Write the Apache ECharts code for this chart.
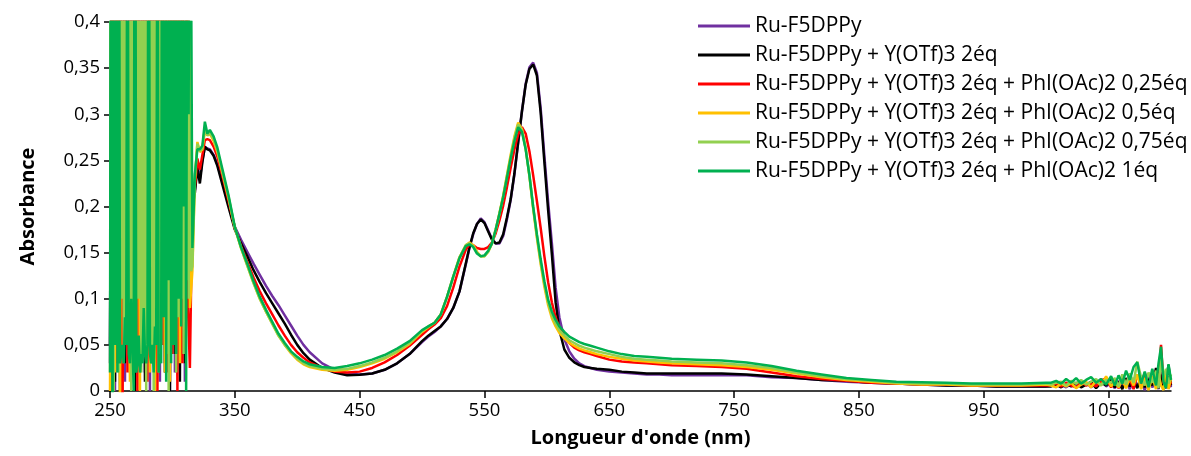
<!DOCTYPE html>
<html>
<head>
<meta charset="utf-8">
<script src="https://cdn.jsdelivr.net/npm/echarts@6/dist/echarts.min.js"></script>
<style>
html,body{margin:0;padding:0;background:#fff;}
#chart{width:1191px;height:456px;}
</style>
</head>
<body>
<div id="chart"></div>
<script>
// ---------- DATA ----------
const seriesNames = [
  'Ru-F5DPPy',
  'Ru-F5DPPy + Y(OTf)3 2éq',
  'Ru-F5DPPy + Y(OTf)3 2éq + PhI(OAc)2 0,25éq',
  'Ru-F5DPPy + Y(OTf)3 2éq + PhI(OAc)2 0,5éq',
  'Ru-F5DPPy + Y(OTf)3 2éq + PhI(OAc)2 0,75éq',
  'Ru-F5DPPy + Y(OTf)3 2éq + PhI(OAc)2 1éq'
];
const xTicks = [250, 350, 450, 550, 650, 750, 850, 950, 1050];
const yTicks = [0, 0.05, 0.1, 0.15, 0.2, 0.25, 0.3, 0.35, 0.4];

// noisy UV region, 1 nm step (dense series)
const uvWlA = [250,251,252,253,254,255,256,257,258,259,260,261,262,263,264,265,266,267,268,269,
  270,271,272,273,274,275,276,277,278,279,280,281,282,283,284,285,286,287,288,289,
  290,291,292,293,294,295,296,297,298,299,300,301,302,303,304,305,306,307,308,309,
  310,311,312,313,314,315];
// noisy UV region, 2 nm step
const uvWlB = [250,252,254,256,258,260,262,264,266,268,270,272,274,276,278,280,282,284,286,288,
  290,292,294,296,298,300,302,304,306,308,310,312,314];

// main spectral region
const wlMain = [316,318,320,322,324,326,328,330,333,336,340,345,350,355,360,365,370,375,
  380,385,390,395,400,405,410,420,430,440,450,460,470,480,490,500,505,510,515,520,
  525,530,535,538,541,544,547,550,553,556,559,562,565,568,571,574,577,580,583,586,
  589,592,595,598,601,604,607,610,614,618,622,626,630,635,640,650,660,670,680,690,
  700,720,740,760,780,800,820,840,860,880,900,920,940,960,980,1000];

// noisy NIR tail
const wlTail = [1004,1008,1012,1016,1020,1024,1028,1032,1036,1040,1044,1048,1052,1055,1058,
  1061,1064,1067,1070,1073,1076,1079,1082,1085,1088,1090,1092,1094,1096,1098,1100];

// --- Ru-F5DPPy (purple)
const purpleUV = [0.03,0.8,0.0,0.7,0.02,0.9,0.01,0.6,0.04,0.8,0.0,0.7,0.03,0.9,0.02,0.6,0.0,0.8,0.05,0.7,0.01,0.9,0.03,0.6,0.0,0.8,0.02,0.7,0.04,0.9,0.01,0.6,0.12];
const purpleMain = [0.20,0.218,0.244,0.23,0.25,0.264,0.263,0.262,0.256,0.246,0.227,0.202,0.178,0.164,0.151,0.138,0.126,0.114,
  0.103,0.093,0.082,0.071,0.060,0.050,0.042,0.030,0.023,0.019,0.018,0.019,0.023,0.030,0.040,0.053,0.059,0.064,0.070,0.078,
  0.090,0.108,0.137,0.155,0.170,0.181,0.187,0.183,0.174,0.165,0.160,0.160,0.168,0.186,0.207,0.235,0.269,0.303,0.333,0.351,
  0.356,0.345,0.307,0.255,0.205,0.160,0.112,0.080,0.056,0.043,0.035,0.030,0.027,0.025,0.023,0.021,0.020,0.019,0.018,0.018,
  0.017,0.017,0.017,0.017,0.015,0.014,0.012,0.010,0.009,0.008,0.007,0.006,0.006,0.005,0.005,0.005];
const purpleTail = [0.006,0.005,0.007,0.004,0.008,0.005,0.006,0.009,0.004,0.008,0.013,0.005,0.009,0.003,0.011,0.004,0.012,0.002,0.014,0.006,0.010,0.001,0.015,0.004,0.012,0.002,0.020,0.006,0.003,0.016,0.004];

// --- + Y(OTf)3 2éq (black)
const blackUV = [0.05,0.7,0.01,0.8,0.0,0.6,0.03,0.9,0.02,0.7,0.0,0.8,0.04,0.6,0.01,0.9,0.03,0.7,0.0,0.8,0.05,0.6,0.02,0.9,0.0,0.7,0.04,0.8,0.01,0.6,0.03,0.7,0.1];
const blackMain = [0.20,0.215,0.242,0.225,0.248,0.265,0.262,0.261,0.255,0.244,0.224,0.199,0.175,0.160,0.146,0.131,0.118,0.106,
  0.095,0.084,0.073,0.061,0.050,0.041,0.034,0.025,0.020,0.017,0.0175,0.019,0.023,0.030,0.040,0.054,0.060,0.065,0.070,0.078,
  0.090,0.108,0.138,0.156,0.171,0.181,0.186,0.182,0.173,0.164,0.160,0.161,0.170,0.188,0.208,0.236,0.270,0.303,0.332,0.349,
  0.354,0.342,0.302,0.248,0.196,0.148,0.096,0.066,0.045,0.036,0.031,0.028,0.026,0.025,0.024,0.023,0.021,0.020,0.019,0.019,
  0.019,0.019,0.019,0.018,0.016,0.014,0.012,0.011,0.009,0.008,0.007,0.006,0.006,0.005,0.005,0.005];
const blackTail = [0.005,0.007,0.004,0.008,0.005,0.009,0.004,0.007,0.010,0.003,0.009,0.006,0.012,0.004,0.010,0.002,0.014,0.005,0.011,0.003,0.016,0.004,0.013,0.006,0.025,0.003,0.018,0.002,0.012,0.028,0.006];

// --- + PhI(OAc)2 0,25éq (red)
const redUV = [0.8,0.0,0.9,0.03,0.7,-0.05,0.6,0.02,0.85,0.04,0.5,0.0,0.9,0.06,0.7,0.01,0.6,0.03,0.8,0.0,0.7,0.05,0.9,0.02,0.6,0.04,0.8,0.0,0.7,0.03,0.9,0.11,0.025];
const redMain = [0.21,0.222,0.252,0.24,0.256,0.272,0.273,0.272,0.265,0.254,0.234,0.206,0.177,0.157,0.140,0.123,0.108,0.095,
  0.083,0.071,0.060,0.050,0.042,0.036,0.031,0.025,0.021,0.020,0.021,0.025,0.031,0.039,0.049,0.061,0.067,0.072,0.079,0.092,
  0.112,0.135,0.153,0.159,0.158,0.155,0.154,0.154,0.156,0.161,0.171,0.185,0.201,0.221,0.242,0.262,0.278,0.286,0.279,0.260,
  0.234,0.206,0.177,0.146,0.118,0.096,0.080,0.069,0.059,0.052,0.047,0.044,0.042,0.040,0.038,0.034,0.032,0.031,0.030,0.029,
  0.028,0.027,0.026,0.024,0.020,0.016,0.013,0.011,0.009,0.008,0.007,0.007,0.006,0.006,0.006,0.006];
const redTail = [0.006,0.008,0.005,0.009,0.006,0.004,0.010,0.006,0.008,0.005,0.011,0.014,0.004,0.012,0.003,0.015,0.005,0.013,0.002,0.018,0.007,0.020,0.004,0.016,0.006,0.012,0.050,0.008,0.014,0.003,0.010];

// --- + PhI(OAc)2 0,5éq (yellow)
const yellowUV = [0.0,0.6,0.02,0.5,-0.02,0.7,0.05,0.4,0.01,0.8,0.03,0.6,0.0,0.7,0.04,0.5,0.02,0.9,0.0,0.6,0.05,0.7,0.02,0.8,0.01,0.6,0.06,0.7,0.03,0.5,0.08,0.6,0.09];
const yellowMain = [0.13,0.228,0.27,0.259,0.262,0.282,0.277,0.279,0.271,0.259,0.237,0.209,0.177,0.155,0.136,0.117,0.100,0.086,
  0.073,0.060,0.050,0.041,0.034,0.029,0.026,0.023,0.022,0.023,0.026,0.030,0.035,0.042,0.051,0.064,0.069,0.074,0.083,0.102,
  0.124,0.145,0.158,0.161,0.158,0.151,0.146,0.146,0.151,0.160,0.175,0.193,0.212,0.234,0.256,0.276,0.291,0.284,0.263,0.233,
  0.198,0.166,0.138,0.113,0.093,0.079,0.070,0.063,0.057,0.052,0.049,0.046,0.044,0.042,0.040,0.037,0.035,0.033,0.032,0.031,
  0.030,0.029,0.028,0.026,0.023,0.019,0.015,0.012,0.010,0.008,0.007,0.007,0.006,0.006,0.006,0.007];
const yellowTail = [0.006,0.004,0.008,0.005,0.009,0.003,0.007,0.010,0.004,0.011,0.006,0.016,0.005,0.010,0.004,0.012,0.003,0.015,0.006,0.018,0.002,0.014,0.001,0.016,0.002,0.019,0.006,0.001,0.021,0.002,0.014];

// --- + PhI(OAc)2 0,75éq (light green)
const lgreenUV = [0.5,0.03,0.7,0.0,0.8,0.06,0.6,0.02,0.9,0.1,0.7,0.03,0.8,0.05,0.65,0.08,0.9,0.0,0.7,0.02,
  0.8,0.04,0.9,0.1,0.7,0.02,0.85,0.05,0.6,0.0,0.9,0.08,0.75,0.03,0.6,0.0,0.8,0.1,0.7,0.02,
  0.9,0.05,0.6,0.12,0.8,0.04,0.7,0.0,0.9,0.06,0.8,0.1,0.5,0.02,0.7,0.08,0.6,0.1,0.8,0.04,
  0.6,0.12,0.8,0.1,0.6,0.13];
const lgreenMain = [0.135,0.232,0.268,0.26,0.263,0.285,0.277,0.280,0.273,0.261,0.238,0.210,0.177,0.155,0.136,0.117,0.100,0.086,
  0.073,0.060,0.050,0.042,0.035,0.030,0.027,0.024,0.023,0.024,0.027,0.031,0.036,0.043,0.052,0.065,0.070,0.074,0.083,0.102,
  0.124,0.145,0.158,0.160,0.157,0.150,0.146,0.146,0.151,0.160,0.175,0.192,0.211,0.233,0.254,0.274,0.289,0.283,0.263,0.234,
  0.199,0.168,0.140,0.116,0.096,0.082,0.073,0.066,0.060,0.055,0.052,0.049,0.047,0.045,0.043,0.040,0.037,0.035,0.034,0.033,
  0.032,0.031,0.030,0.028,0.025,0.020,0.016,0.013,0.011,0.009,0.008,0.008,0.007,0.007,0.007,0.008];
const lgreenTail = [0.007,0.009,0.010,0.006,0.011,0.008,0.012,0.007,0.010,0.013,0.006,0.012,0.009,0.014,0.005,0.018,0.007,0.019,0.009,0.032,0.015,0.006,0.020,0.009,0.022,0.003,0.035,0.015,0.024,0.008,0.018];

// --- + PhI(OAc)2 1éq (green)
const greenUV = [0.02,0.9,-0.1,0.8,0.05,0.7,0.02,0.9,
  0.03,0.04,0.05,0.03,0.08,0.05,0.7,0.04,0.03,0.1,0.05,
  0.0,0.9,0.02,
  0.03,0.06,0.02,0.04,0.03,0.09,0.04,0.03,0.05,
  0.8,0.04,0.03,0.05,0.02,0.07,0.05,0.6,0.02,0.04,0.03,
  0.9,0.08,0.7,0.01,0.85,0.12,0.6,0.03,0.8,0.05,0.75,0.04,0.9,0.1,0.8,0.07,0.6,0.2,0.9,0.0,0.7,0.3,0.8,0.45];
const greenMain = [0.155,0.235,0.262,0.262,0.266,0.292,0.279,0.283,0.276,0.264,0.241,0.212,0.178,0.156,0.138,0.119,0.102,0.088,
  0.075,0.062,0.052,0.043,0.037,0.032,0.029,0.026,0.025,0.027,0.030,0.034,0.039,0.046,0.054,0.066,0.070,0.074,0.083,0.102,
  0.124,0.144,0.157,0.159,0.156,0.149,0.146,0.147,0.152,0.160,0.175,0.192,0.210,0.231,0.252,0.271,0.286,0.281,0.262,0.234,
  0.200,0.170,0.143,0.119,0.099,0.086,0.077,0.070,0.064,0.059,0.056,0.053,0.051,0.049,0.047,0.043,0.040,0.038,0.037,0.036,
  0.035,0.034,0.033,0.031,0.027,0.022,0.018,0.014,0.012,0.010,0.0095,0.009,0.008,0.008,0.008,0.009];
const greenTail = [0.009,0.011,0.008,0.013,0.009,0.014,0.008,0.012,0.015,0.009,0.013,0.007,0.016,0.006,0.017,0.008,0.022,0.012,0.026,0.031,0.008,0.021,0.004,0.024,0.006,0.030,0.048,0.010,0.003,0.029,0.012];

const seriesColors = ['#7030A0', '#000000', '#FF0000', '#FFC000', '#92D050', '#00B050'];

// ---------- BUILD ----------
function pairs(wl, vals) { return wl.map((w, i) => [w, vals[i]]); }
const seriesData = [
  pairs(uvWlB, purpleUV).concat(pairs(wlMain, purpleMain), pairs(wlTail, purpleTail)),
  pairs(uvWlB, blackUV).concat(pairs(wlMain, blackMain), pairs(wlTail, blackTail)),
  pairs(uvWlB, redUV).concat(pairs(wlMain, redMain), pairs(wlTail, redTail)),
  pairs(uvWlB, yellowUV).concat(pairs(wlMain, yellowMain), pairs(wlTail, yellowTail)),
  pairs(uvWlA, lgreenUV).concat(pairs(wlMain, lgreenMain), pairs(wlTail, lgreenTail)),
  pairs(uvWlA, greenUV).concat(pairs(wlMain, greenMain), pairs(wlTail, greenTail))
];

const FONT = '"Open Sans", "Liberation Sans", sans-serif';
const chart = echarts.init(document.getElementById('chart'), null, { renderer: 'canvas' });
chart.setOption({
  animation: false,
  backgroundColor: '#ffffff',
  textStyle: { fontFamily: FONT },
  grid: { left: 110, right: 20, top: 22, bottom: 65, containLabel: false },
  legend: {
    orient: 'vertical',
    left: 693,
    top: 10,
    icon: 'rect',
    itemWidth: 52,
    itemHeight: 3,
    itemGap: 7,
    textStyle: { fontFamily: FONT, fontSize: 21, color: '#000', lineHeight: 22 },
    data: seriesNames
  },
  xAxis: {
    type: 'value',
    min: 250,
    max: 1100,
    interval: 100,
    name: "Longueur d'onde (nm)",
    nameLocation: 'middle',
    nameGap: 37,
    nameTextStyle: { fontFamily: FONT, fontSize: 20, fontWeight: 'bold', color: '#000' },
    axisLine: { show: true, onZero: false, lineStyle: { color: '#000', width: 1.5 } },
    axisTick: { show: true, length: 7, inside: false, customValues: xTicks, lineStyle: { color: '#000', width: 1.5 } },
    axisLabel: { customValues: xTicks, fontFamily: FONT, fontSize: 18.5, color: '#000', margin: 10,
      formatter: v => String(v) },
    splitLine: { show: false }
  },
  yAxis: {
    type: 'value',
    min: 0,
    max: 0.4,
    interval: 0.05,
    name: 'Absorbance',
    nameLocation: 'middle',
    nameGap: 72,
    nameTextStyle: { fontFamily: FONT, fontSize: 20, fontWeight: 'bold', color: '#000' },
    axisLine: { show: true, lineStyle: { color: '#000', width: 1.5 } },
    axisTick: { show: true, length: 6, lineStyle: { color: '#000', width: 1.5 } },
    axisLabel: {
      fontFamily: FONT, fontSize: 18.5, color: '#000', margin: 10,
      formatter: v => String(parseFloat(v.toFixed(2))).replace('.', ',')
    },
    splitLine: { show: false }
  },
  series: seriesNames.map((n, i) => ({
    name: n,
    type: 'line',
    data: seriesData[i],
    showSymbol: false,
    symbol: 'none',
    clip: true,
    lineStyle: { color: seriesColors[i], width: 2.5 },
    itemStyle: { color: seriesColors[i] },
    z: 2 + i
  }))
});
</script>
</body>
</html>
